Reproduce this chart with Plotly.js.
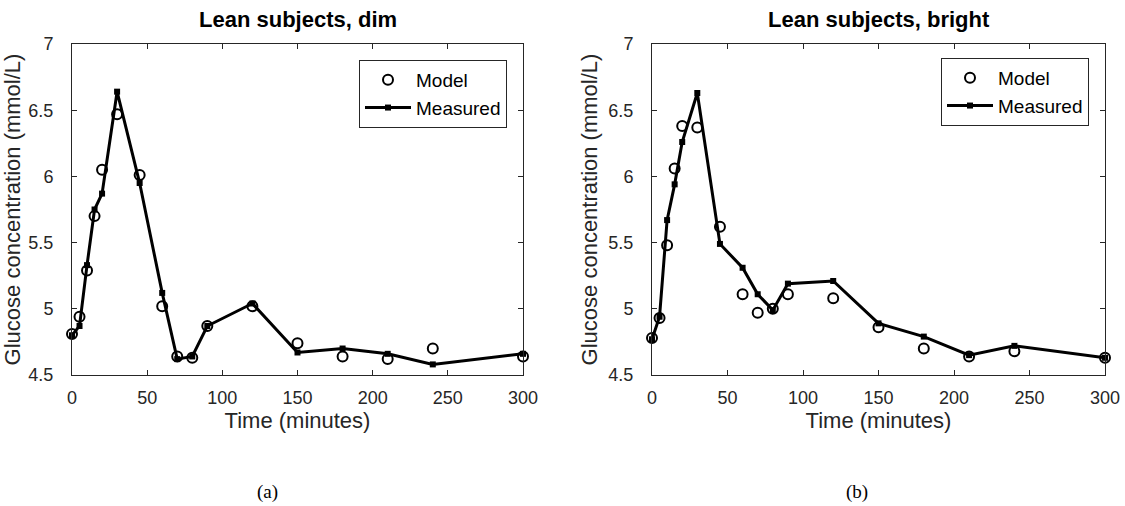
<!DOCTYPE html>
<html>
<head>
<meta charset="utf-8">
<script src="https://cdn.plot.ly/plotly-3.0.1.min.js"></script>
<style>html,body{margin:0;padding:0;background:#fff;}#chart{width:1125px;height:506px;}</style>
</head>
<body>
<div id="chart"></div>
<script>
// Time points (minutes)
const timeMin = [0, 5, 10, 15, 20, 30, 45, 60, 70, 80, 90, 120, 150, 180, 210, 240, 300];

// (a) Lean subjects, dim
const dimMeasured = [4.80, 4.87, 5.33, 5.75, 5.87, 6.64, 5.95, 5.12, 4.62, 4.64, 4.87, 5.04, 4.67, 4.70, 4.66, 4.58, 4.66];
const dimModel    = [4.81, 4.94, 5.29, 5.70, 6.05, 6.47, 6.01, 5.02, 4.64, 4.63, 4.87, 5.02, 4.74, 4.64, 4.62, 4.70, 4.64];

// (b) Lean subjects, bright
const brightMeasured = [4.77, 4.94, 5.67, 5.94, 6.26, 6.63, 5.49, 5.31, 5.11, 4.99, 5.19, 5.21, 4.89, 4.79, 4.65, 4.72, 4.63];
const brightModel    = [4.78, 4.93, 5.48, 6.06, 6.38, 6.37, 5.62, 5.11, 4.97, 5.00, 5.11, 5.08, 4.86, 4.70, 4.64, 4.68, 4.63];

const panelTitles = ['Lean subjects, dim', 'Lean subjects, bright'];
const panelLabels = ['(a)', '(b)'];
const xTicks = [0, 50, 100, 150, 200, 250, 300];
const yTicks = [4.5, 5, 5.5, 6, 6.5, 7];

const FONT = 'Liberation Sans, Arial, sans-serif';
const AX = '#262626';

function modelTrace(y, xa, ya, lg) {
  return {x: timeMin, y: y, xaxis: xa, yaxis: ya, legend: lg, name: 'Model', mode: 'markers',
    type: 'scatter', cliponaxis: false,
    marker: {symbol: 'circle-open', size: 10, color: '#000', line: {width: 2, color: '#000'}}};
}
function measTrace(y, xa, ya, lg) {
  return {x: timeMin, y: y, xaxis: xa, yaxis: ya, legend: lg, name: 'Measured', mode: 'lines+markers',
    type: 'scatter', cliponaxis: false,
    line: {color: '#000', width: 3},
    marker: {symbol: 'square', size: 6, color: '#000'}};
}

const data = [
  modelTrace(dimModel, 'x', 'y', 'legend'),
  measTrace(dimMeasured, 'x', 'y', 'legend'),
  modelTrace(brightModel, 'x2', 'y2', 'legend2'),
  measTrace(brightMeasured, 'x2', 'y2', 'legend2')
];

function xAxis(domain, anchor) {
  return {domain: domain, anchor: anchor, range: [0, 300], tickvals: xTicks, ticktext: xTicks.map(String),
    ticks: 'inside', ticklen: 5, tickcolor: AX, showline: true, linecolor: AX, linewidth: 1, mirror: 'ticks',
    showgrid: false, zeroline: false, ticklabelstandoff: 6,
    tickfont: {family: FONT, size: 18, color: AX},
    title: {text: 'Time (minutes)', font: {family: FONT, size: 22, color: AX}, standoff: 6}};
}
function yAxis(domain, anchor) {
  return {domain: domain, anchor: anchor, range: [4.5, 7], tickvals: yTicks, ticktext: yTicks.map(String),
    ticks: 'inside', ticklen: 5, tickcolor: AX, showline: true, linecolor: AX, linewidth: 1, mirror: 'ticks',
    showgrid: false, zeroline: false, ticklabelstandoff: 14,
    tickfont: {family: FONT, size: 18, color: AX},
    title: {text: 'Glucose concentration (mmol/L)', font: {family: FONT, size: 22, color: AX}, standoff: 4}};
}

function legendCfg(x, y) {
  return {x: x, y: y, xanchor: 'left', yanchor: 'top', xref: 'paper', yref: 'paper',
    bgcolor: '#fff', bordercolor: AX, borderwidth: 1, tracegroupgap: 0, itemwidth: 46,
    font: {family: FONT, size: 19, color: '#000'}};
}

const yDom = [1 - 375 / 506, 1 - 44 / 506];
const layout = {
  width: 1125, height: 506,
  margin: {l: 0, r: 0, t: 0, b: 0},
  paper_bgcolor: '#fff', plot_bgcolor: '#fff',
  showlegend: true,
  xaxis: xAxis([72 / 1125, 523 / 1125], 'y'),
  yaxis: yAxis(yDom, 'x'),
  xaxis2: xAxis([652 / 1125, 1105 / 1125], 'y2'),
  yaxis2: yAxis(yDom, 'x2'),
  legend: legendCfg(359 / 1125, 1 - 60 / 506),
  legend2: legendCfg(941 / 1125, 1 - 58 / 506),
  annotations: [
    {text: '<b>' + panelTitles[0] + '</b>', x: 297.5 / 1125, y: 1 - 19 / 506, xref: 'paper', yref: 'paper',
      showarrow: false, xanchor: 'center', yanchor: 'middle', font: {family: FONT, size: 22, color: '#000'}},
    {text: '<b>' + panelTitles[1] + '</b>', x: 878.5 / 1125, y: 1 - 19 / 506, xref: 'paper', yref: 'paper',
      showarrow: false, xanchor: 'center', yanchor: 'middle', font: {family: FONT, size: 22, color: '#000'}},
    {text: panelLabels[0], x: 267 / 1125, y: 1 - 492 / 506, xref: 'paper', yref: 'paper',
      showarrow: false, xanchor: 'center', yanchor: 'middle', font: {family: 'Liberation Serif, serif', size: 19, color: '#000'}},
    {text: panelLabels[1], x: 857 / 1125, y: 1 - 492 / 506, xref: 'paper', yref: 'paper',
      showarrow: false, xanchor: 'center', yanchor: 'middle', font: {family: 'Liberation Serif, serif', size: 19, color: '#000'}}
  ]
};

Plotly.newPlot('chart', data, layout, {displayModeBar: false, staticPlot: true});
</script>
</body>
</html>
